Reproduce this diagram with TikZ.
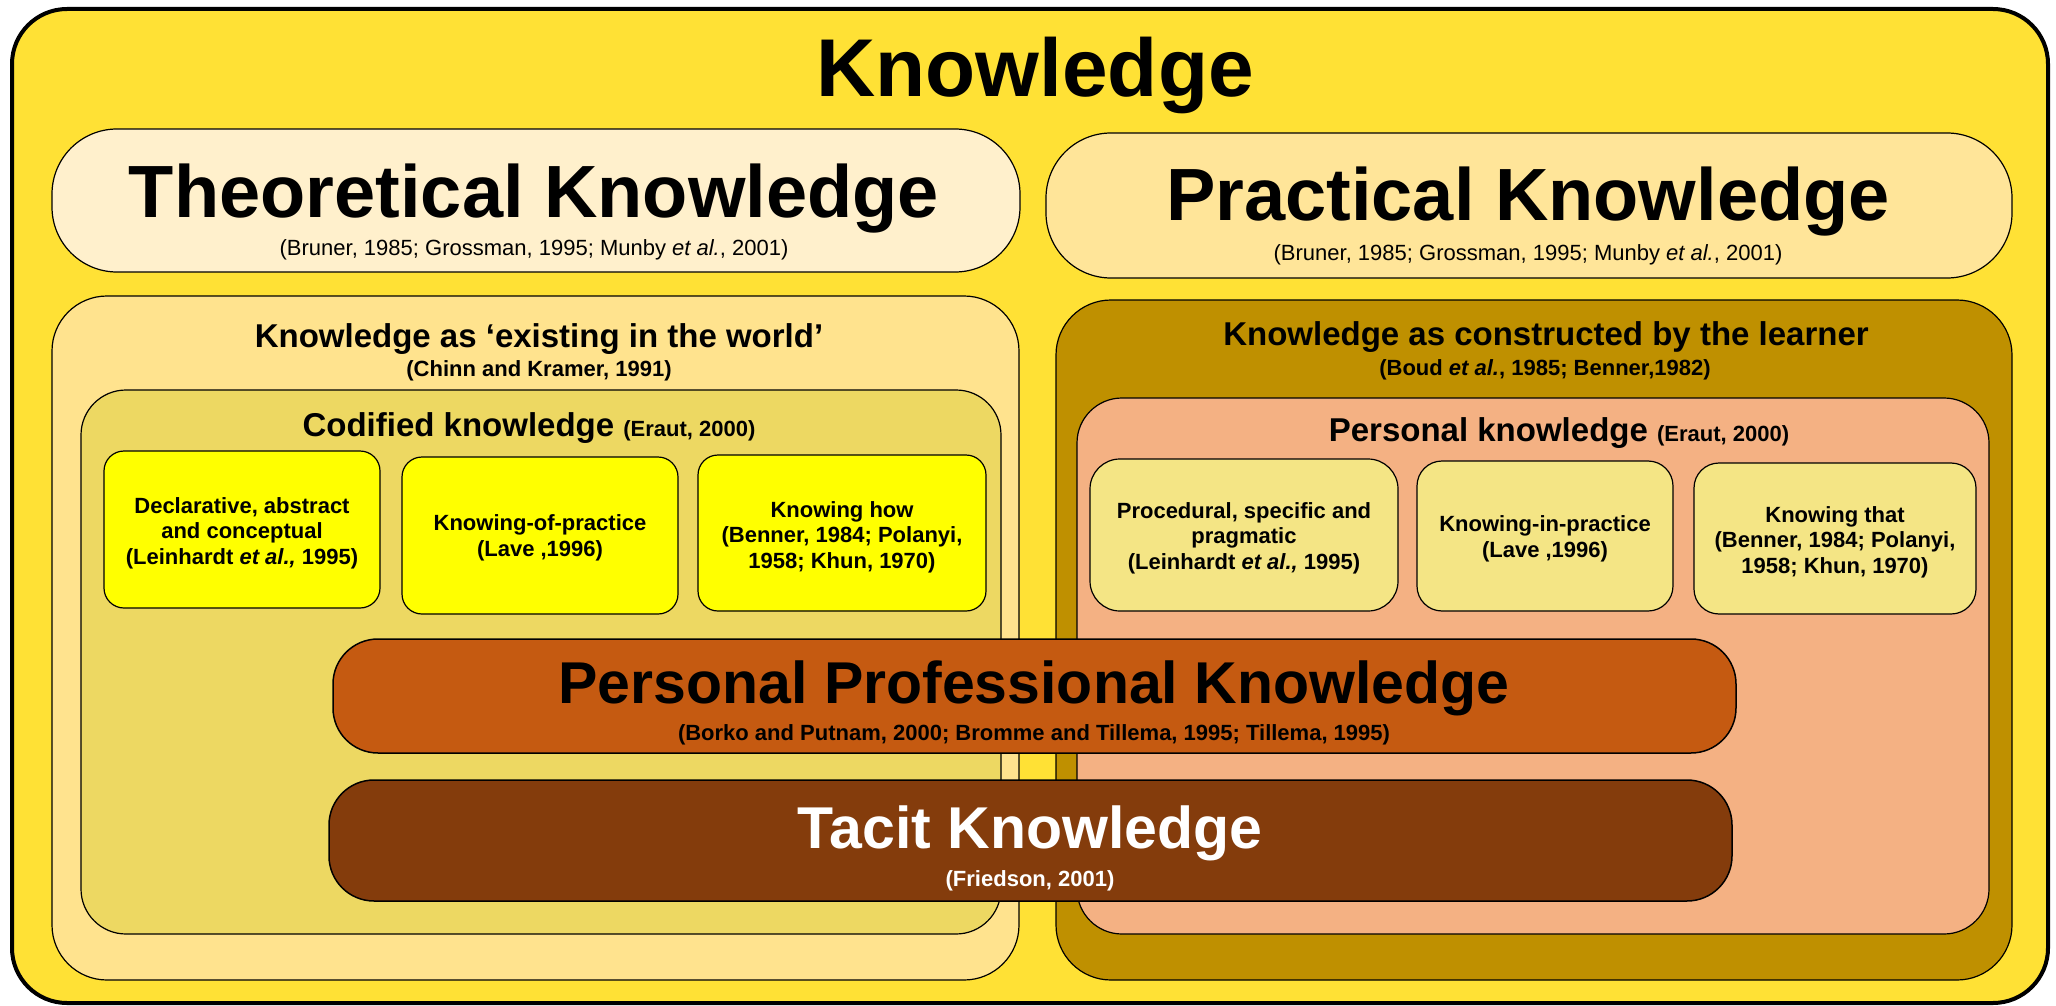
\documentclass[tikz,border=0pt]{standalone}
\usepackage{fontspec}
\setmainfont{Liberation Sans}
\definecolor{outerY}{HTML}{FFE135}
\definecolor{theoC}{HTML}{FFF0CC}
\definecolor{pracC}{HTML}{FFE599}
\definecolor{existC}{HTML}{FFE38E}
\definecolor{codifC}{HTML}{EDD862}
\definecolor{yelC}{HTML}{FFFF00}
\definecolor{constrC}{HTML}{BF9000}
\definecolor{persC}{HTML}{F4B183}
\definecolor{rsmallC}{HTML}{F4E585}
\definecolor{ppkC}{HTML}{C55A11}
\definecolor{tacitC}{HTML}{843C0C}
\newcommand\myfs[2]{\fontsize{#1}{#2}\selectfont}
\begin{document}
\begin{tikzpicture}[x=1pt,y=-1pt,
  box/.style={draw=black, line width=1.2pt, rounded corners=#1, inner sep=0pt, outer sep=0pt},
  box/.default=20,
  bigtitle/.style={anchor=base, font=\bfseries\myfs{74}{80}},
  cite/.style={anchor=base, font=\myfs{22}{26}},
  subtitle/.style={anchor=base, font=\bfseries\myfs{33}{38}},
  subcite/.style={anchor=base, font=\bfseries\myfs{22}{26}},
  smalltext/.style={align=center, font=\bfseries\myfs{22}{25.5}, inner sep=0pt}
]
\useasboundingbox (0,0) rectangle (2056,1006);

% outer
\node[box=55, fill=outerY, line width=4pt, minimum width=2036pt, minimum height=994pt] (outer) at (1030,506) {};
\node[anchor=base, font=\bfseries\myfs{82}{90}] (tK) at (1035,97) {Knowledge};

% theoretical / practical
\node[box=65, fill=theoC, minimum width=968pt, minimum height=143pt] (theo) at (536,200.5) {};
\node[bigtitle] (theoT) at (534,217) {Theoretical Knowledge};
\node[cite] (theoC) at (534,255) {(Bruner, 1985; Grossman, 1995; Munby \textit{et al.}, 2001)};

\node[box=65, fill=pracC, minimum width=966pt, minimum height=145pt] (prac) at (1529,205.5) {};
\node[bigtitle] (pracT) at (1528,220) {Practical Knowledge};
\node[cite] (pracC) at (1528,260) {(Bruner, 1985; Grossman, 1995; Munby \textit{et al.}, 2001)};

% existing in the world
\node[box=55, fill=existC, minimum width=967pt, minimum height=684pt] (exist) at (535.5,638) {};
\node[subtitle] (existT) at (539,347) {Knowledge as ‘existing in the world’};
\node[subcite] (existC) at (539,376) {(Chinn and Kramer, 1991)};

% constructed by learner
\node[box=55, fill=constrC, minimum width=956pt, minimum height=680pt] (constr) at (1534,640) {};
\node[subtitle] (constrT) at (1546,345) {Knowledge as constructed by the learner};
\node[subcite] (constrC) at (1545,375) {(Boud \textit{et al.}, 1985; Benner,1982)};

% codified
\node[box=45, fill=codifC, minimum width=920pt, minimum height=544pt] (codif) at (541,662) {};
\node[anchor=base, font=\bfseries] (codifT) at (529,436) {\myfs{33}{38}Codified knowledge {\myfs{22}{26}(Eraut, 2000)}};

% personal
\node[box=45, fill=persC, minimum width=912pt, minimum height=536pt] (pers) at (1533,666) {};
\node[anchor=base, font=\bfseries] (persT) at (1559,441) {\myfs{33}{38}Personal knowledge {\myfs{22}{26}(Eraut, 2000)}};

% codified small boxes
\node[box=20, fill=yelC, minimum width=276pt, minimum height=157pt] (l1) at (242,529.5) {};
\node[smalltext] (l1t) at (242,533) {Declarative, abstract\\and conceptual\\(Leinhardt \textit{et al.,} 1995)};
\node[box=20, fill=yelC, minimum width=276pt, minimum height=157pt] (l2) at (540,535.5) {};
\node[smalltext] (l2t) at (540,538) {Knowing-of-practice\\(Lave ,1996)};
\node[box=20, fill=yelC, minimum width=288pt, minimum height=156pt] (l3) at (842,533) {};
\node[smalltext] (l3t) at (842,537) {Knowing how\\(Benner, 1984; Polanyi,\\1958; Khun, 1970)};

% personal small boxes
\node[box=30, fill=rsmallC, minimum width=308pt, minimum height=152pt] (r1) at (1244,535) {};
\node[smalltext] (r1t) at (1244,538) {Procedural, specific and\\pragmatic\\(Leinhardt \textit{et al.,} 1995)};
\node[box=25, fill=rsmallC, minimum width=256pt, minimum height=150pt] (r2) at (1545,536) {};
\node[smalltext] (r2t) at (1545,539) {Knowing-in-practice\\(Lave ,1996)};
\node[box=25, fill=rsmallC, minimum width=282pt, minimum height=151pt] (r3) at (1835,538.5) {};
\node[smalltext] (r3t) at (1835,542) {Knowing that\\(Benner, 1984; Polanyi,\\1958; Khun, 1970)};

% personal professional knowledge
\node[box=45, fill=ppkC, line width=1.5pt, minimum width=1403pt, minimum height=114pt] (ppk) at (1034.5,696) {};
\node[anchor=base, font=\bfseries\myfs{59}{64}] (ppkT) at (1034,703) {Personal Professional Knowledge};
\node[subcite] (ppkC) at (1034,740) {(Borko and Putnam, 2000; Bromme and Tillema, 1995; Tillema, 1995)};

% tacit
\node[box=45, fill=tacitC, line width=1.5pt, minimum width=1403pt, minimum height=121pt] (tacit) at (1030.5,840.5) {};
\node[anchor=base, text=white, font=\bfseries\myfs{59}{64}] (tacitT) at (1030,848) {Tacit Knowledge};
\node[subcite, text=white] (tacitC) at (1030,886) {(Friedson, 2001)};
\end{tikzpicture}
\end{document}
